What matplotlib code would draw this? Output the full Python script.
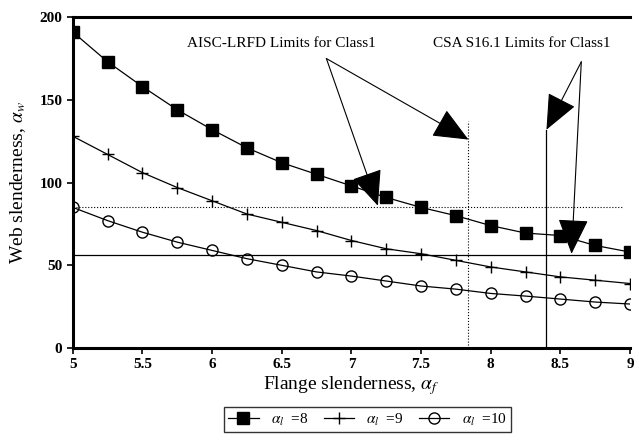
import matplotlib
matplotlib.use("Agg")
import matplotlib.pyplot as plt

plt.rcParams['font.family'] = ['Liberation Serif', 'DejaVu Serif']
plt.rcParams['mathtext.fontset'] = 'stix'

# flange slenderness values
alpha_f = [5.0, 5.25, 5.5, 5.75, 6.0, 6.25, 6.5, 6.75, 7.0,
           7.25, 7.5, 7.75, 8.0, 8.25, 8.5, 8.75, 9.0]

# web slenderness for alpha_l = 8, 9, 10
web_l8 = [191, 173, 158, 144, 132, 121, 112, 105, 98,
          91, 85, 80, 74, 69.5, 68, 62, 58]
web_l9 = [128, 117, 106, 97, 89, 81, 76, 71, 65,
          60, 57, 53, 49, 46, 43, 41, 39]
web_l10 = [85, 77, 70, 64, 59, 54, 50, 46, 43.5,
           40.5, 37.5, 35.6, 33, 31.4, 29.6, 27.8, 26.6]

# code limits
aisc_flange = 7.84
aisc_web = 85
csa_flange = 8.4
csa_web = 56.3

fig = plt.figure(figsize=(6.39, 4.40), dpi=100)
ax = fig.add_axes([0.114, 0.209, 0.872, 0.752])

ax.plot(alpha_f, web_l8, color='black', lw=0.9, marker='s', ms=8,
        mfc='black', mec='black', label=r'$\alpha_l$  =8')
ax.plot(alpha_f, web_l9, color='black', lw=0.9, marker='+', ms=9,
        mew=1.0, label=r'$\alpha_l$  =9')
ax.plot(alpha_f, web_l10, color='black', lw=0.9, marker='o', ms=8,
        mfc='none', mec='black', label=r'$\alpha_l$  =10')

# limit lines
ax.plot([5, 8.95], [aisc_web, aisc_web], color='black', lw=0.8, ls=':')
ax.plot([aisc_flange, aisc_flange], [0, 137], color='black', lw=0.8, ls=':')
ax.axhline(csa_web, color='black', lw=0.9)
ax.plot([csa_flange, csa_flange], [0, 132], color='black', lw=0.9)

# annotations
ax.text(6.5, 184, 'AISC-LRFD Limits for Class1', ha='center', va='center',
        fontsize=11)
ax.text(8.22, 184, 'CSA S16.1 Limits for Class1', ha='center', va='center',
        fontsize=11)

aprops = dict(arrowstyle='-|>,head_length=1.5,head_width=0.65', color='black',
              lw=0.8, shrinkA=0, shrinkB=0, mutation_scale=15)
ax.annotate('', xy=(aisc_flange, 126), xytext=(6.82, 175), arrowprops=aprops)
ax.annotate('', xy=(7.19, 86), xytext=(6.82, 175), arrowprops=aprops)
ax.annotate('', xy=(csa_flange, 132), xytext=(8.65, 173), arrowprops=aprops)
ax.annotate('', xy=(8.58, 57), xytext=(8.65, 173), arrowprops=aprops)

ax.set_xlim(5, 9)
ax.set_ylim(0, 200)
ax.set_xticks([5, 5.5, 6, 6.5, 7, 7.5, 8, 8.5, 9])
ax.set_xticklabels(['5', '5.5', '6', '6.5', '7', '7.5', '8', '8.5', '9'])
ax.set_yticks([0, 50, 100, 150, 200])
for lab in ax.get_xticklabels() + ax.get_yticklabels():
    lab.set_fontweight('bold')
    lab.set_fontsize(11)
ax.tick_params(direction='out', length=4, width=1.2)

for side in ['left', 'bottom', 'top']:
    ax.spines[side].set_linewidth(2.2)
ax.spines['right'].set_visible(False)

ax.set_xlabel(r'Flange slenderness, $\alpha_f$', fontsize=14, labelpad=2)
ax.set_ylabel(r'Web slenderness, $\alpha_w$', fontsize=14, labelpad=8)

leg = fig.legend(loc='lower center', bbox_to_anchor=(0.575, 0.0), ncol=3,
                 fontsize=11, frameon=True, fancybox=False, edgecolor='black',
                 handlelength=2.0, columnspacing=1.0, borderpad=0.3)
leg.get_frame().set_linewidth(1.0)

fig.savefig('out.png', dpi=100)
